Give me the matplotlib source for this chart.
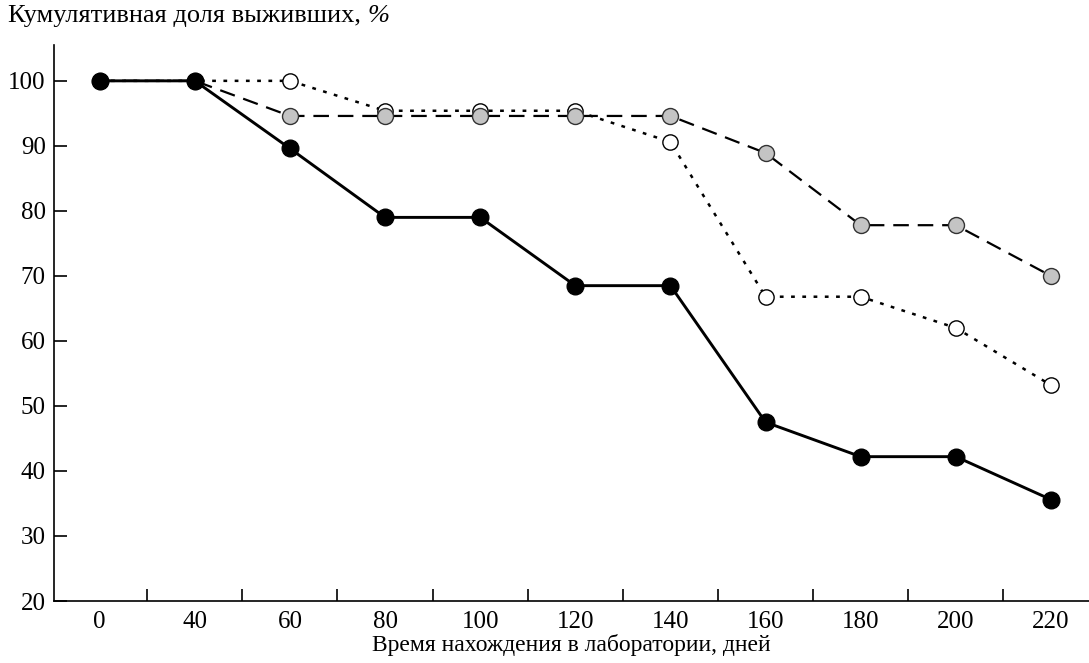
import matplotlib
matplotlib.use('Agg')
import matplotlib.pyplot as plt

days = ['0', '40', '60', '80', '100', '120', '140', '160', '180', '200', '220']
black_solid = [100, 100, 89.6, 79.0, 79.0, 68.5, 68.5, 47.5, 42.2, 42.2, 35.6]
open_dotted = [100, 100, 100, 95.4, 95.4, 95.4, 90.6, 66.8, 66.8, 62.0, 53.2]
gray_dashed = [100, 100, 94.6, 94.6, 94.6, 94.6, 94.6, 88.9, 77.8, 77.8, 70.0]

plt.rcParams['font.family'] = ['Liberation Serif', 'DejaVu Serif']

fig = plt.figure(figsize=(10.89, 6.63), dpi=100)
ax = fig.add_axes([0.0496, 0.0935, 0.9504, 0.8385])

x = list(range(len(days)))

ax.plot(x, open_dotted, color='black', lw=1.8, dashes=(1.5, 3),
        marker='o', ms=11, mfc='white', mec='black', mew=1.0, zorder=2)
ax.plot(x, gray_dashed, color='black', lw=1.6, dashes=(7, 4),
        marker='o', ms=11.5, mfc='#c4c4c4', mec='#333333', mew=1.0, zorder=3)
ax.plot(x, black_solid, color='black', lw=2.1, ls='-',
        marker='o', ms=12, mfc='black', mec='black', zorder=4)

ax.set_xlim(-0.48, 10.4)
ax.set_ylim(20, 105.5)

ax.set_xticks(x)
ax.set_xticklabels(days)
ax.set_xticks([i + 0.5 for i in range(len(days) - 1)], minor=True)
ax.tick_params(axis='x', which='major', length=0, labelsize=18, pad=7)
ax.tick_params(axis='x', which='minor', direction='in', length=9, width=1.2)
ax.set_yticks(range(20, 101, 10))
ax.tick_params(axis='y', direction='in', length=9, width=1.2, labelsize=18, pad=6)

for s in ['top', 'right']:
    ax.spines[s].set_visible(False)
for s in ['left', 'bottom']:
    ax.spines[s].set_linewidth(1.2)

ax.set_xlabel('Время нахождения в лаборатории, дней', fontsize=17, labelpad=1)
t = fig.text(0.007, 0.992, 'Кумулятивная доля выживших, ', fontsize=19, va='top', ha='left')
ax.annotate('%', xy=(1, 0), xycoords=t, va='bottom', ha='left',
            fontsize=19, style='italic')

fig.savefig('out.png', dpi=100)
